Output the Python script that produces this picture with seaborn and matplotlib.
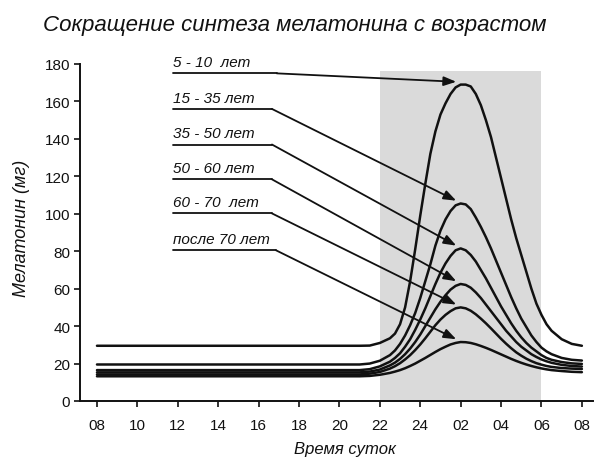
import numpy as np
import pandas as pd
import matplotlib
matplotlib.use("Agg")
import matplotlib.pyplot as plt
import seaborn as sns

# ---------------- data ----------------
hours = [8, 21, 21.5, 22, 22.5, 22.75, 23, 23.25, 23.5, 23.75, 24, 24.25, 24.5, 24.75,
         25, 25.25, 25.5, 25.75, 26, 26.25, 26.5, 26.75, 27, 27.25, 27.5, 27.75,
         28, 28.25, 28.5, 28.75, 29, 29.25, 29.5, 29.75, 30, 30.25, 30.5, 31, 31.5, 32]

groups = ["5 - 10  лет", "15 - 35 лет", "35 - 50 лет", "50 - 60 лет",
          "60 - 70  лет", "после 70 лет"]

age_5_10 = [29.5, 29.5, 29.6, 31, 33.5, 36, 41, 50, 64, 81, 99, 116, 132, 144,
            153, 159, 164, 167.5, 169, 169, 168, 164, 158, 150, 141, 130,
            119, 108, 97, 87, 78, 69, 60, 52, 46, 41, 37.5, 33, 30.5, 29.5]
age_15_35 = [19.5, 19.5, 20, 21.5, 24.5, 27, 30.5, 35, 40.5, 47, 55, 64, 73, 83,
             91, 97, 101.5, 104.5, 105.5, 105, 102.5, 98, 93, 87.5, 81.5, 75,
             68.5, 62, 55.5, 49.5, 44, 39.5, 35, 31.5, 28.5, 26.5, 25, 23, 22, 21.6]
age_35_50 = [16.5, 16.5, 17, 18.5, 21, 23, 25.5, 29, 33, 38, 43.5, 49.5, 56, 62.5,
             68.5, 73.5, 77.5, 80.5, 81.5, 80.5, 78, 74.5, 70, 65.5, 60.5, 55.5,
             50.5, 46, 41.5, 37.5, 34, 31, 28.5, 26.5, 24.5, 23, 22, 20.8, 20.1, 19.8]
age_50_60 = [15.3, 15.3, 15.7, 16.8, 19, 20.5, 22.5, 25, 28, 31.5, 35.5, 40, 44.5, 49,
             53, 56.5, 59.5, 61.5, 62.5, 62, 60.5, 58, 55, 51.5, 48, 44.5,
             41, 37.5, 34.5, 31.5, 29, 27, 25, 23.5, 22.2, 21.2, 20.4, 19.3, 18.7, 18.4]
age_60_70 = [14.2, 14.2, 14.6, 15.5, 17.3, 18.6, 20.2, 22.2, 24.5, 27.2, 30.2, 33.5, 37, 40.5,
             43.5, 46, 48, 49.5, 50, 49.5, 48.2, 46.3, 44, 41.5, 38.8, 36,
             33.2, 30.6, 28.2, 26, 24.2, 22.6, 21.3, 20.2, 19.4, 18.7, 18.2, 17.6, 17.3, 17.1]
age_70plus = [13.2, 13.2, 13.4, 14, 15, 15.7, 16.5, 17.5, 18.7, 20, 21.5, 23, 24.6, 26.2,
              27.7, 29, 30.2, 31, 31.5, 31.4, 31, 30.3, 29.4, 28.4, 27.3, 26.1,
              24.9, 23.7, 22.5, 21.4, 20.4, 19.5, 18.7, 18, 17.4, 16.9, 16.5, 16, 15.6, 15.4]

series = [age_5_10, age_15_35, age_35_50, age_50_60, age_60_70, age_70plus]

tick_hours = [8, 10, 12, 14, 16, 18, 20, 22, 24, 26, 28, 30, 32]
tick_labels = ["08", "10", "12", "14", "16", "18", "20", "22", "24", "02", "04", "06", "08"]
y_ticks = [0, 20, 40, 60, 80, 100, 120, 140, 160, 180]

night_start, night_end, night_top = 22, 30, 176

title = "Сокращение синтеза мелатонина с возрастом"
xlabel = "Время суток"
ylabel = "Мелатонин (мг)"

# ---------------- build table ----------------
rows = []
for g, vals in zip(groups, series):
    for h, v in zip(hours, vals):
        rows.append({"hour": h, "value": v, "group": g})
df = pd.DataFrame(rows)

sns.set_style("ticks")
plt.rcParams["font.family"] = ["Liberation Sans", "DejaVu Sans"]

fig = plt.figure(figsize=(6.0, 4.64), dpi=100)
ax = fig.add_axes([80 / 600, 62 / 464, 513 / 600, 337 / 464])

ax.fill_between([night_start, night_end], 0, night_top, color="#dadada", lw=0, zorder=0)

sns.lineplot(data=df, x="hour", y="value", hue="group", hue_order=groups,
             palette=["#111111"] * len(groups), linewidth=1.8, legend=False,
             ax=ax, zorder=3)
for ln in ax.get_lines():
    ln.set_solid_joinstyle("round")

ax.set_xlim(7.16, 32.55)
ax.set_ylim(0, 180)
ax.set_xticks(tick_hours)
ax.set_xticklabels(tick_labels)
ax.set_yticks(y_ticks)
ax.tick_params(axis="both", labelsize=11, length=4, width=1.2, color="#111111",
               labelcolor="#111111", pad=3)
ax.tick_params(axis="x", pad=8)
for s in ["top", "right"]:
    ax.spines[s].set_visible(False)
for s in ["left", "bottom"]:
    ax.spines[s].set_linewidth(1.4)
    ax.spines[s].set_color("#111111")

ax.set_xlabel(xlabel, fontsize=12, fontstyle="italic", color="#111111")
ax.set_ylabel(ylabel, fontsize=13, fontstyle="italic", color="#111111")
ax.xaxis.set_label_coords(0.517, -0.118)
ax.yaxis.set_label_coords(-0.098, 0.516)

fig.text(0.492, 0.945, title, fontsize=16, fontstyle="italic", ha="center",
         va="center", color="#111111")

# labels with underlines and arrows pointing at each peak
label_y = [175, 156, 137, 118.4, 100.2, 80.5]
label_x0 = 11.76
label_x1 = [16.9, 16.66, 16.66, 16.66, 16.66, 16.86]
for g, vals, ly, lx1 in zip(groups, series, label_y, label_x1):
    i = int(np.argmax(vals))
    peak_h, peak_v = hours[i], vals[i]
    ax.text(label_x0, ly + 2.2, g, fontsize=11, fontstyle="italic",
            ha="left", va="bottom", color="#111111")
    ax.plot([label_x0, lx1], [ly, ly], color="#111111", lw=1.3, zorder=4)
    ax.annotate("", xy=(peak_h - 0.22, peak_v + 1.5), xytext=(lx1, ly),
                arrowprops=dict(arrowstyle="-|>,head_length=0.75,head_width=0.28",
                                color="#111111", lw=1.3, shrinkA=0, shrinkB=0),
                zorder=5)

fig.savefig("out.png", dpi=100)
